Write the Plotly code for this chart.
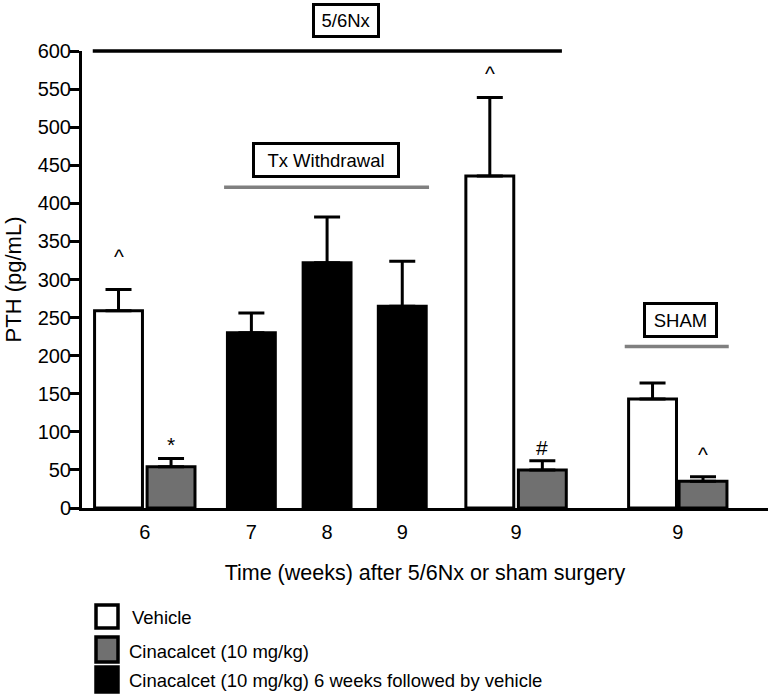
import plotly.graph_objects as go

# ---------------- data ----------------
week_labels = ["6", "7", "8", "9", "9", "9"]

vehicle_pth = [259, 436, 143]
vehicle_sem = [28, 103, 21]

cinacalcet_pth = [54, 50, 35]
cinacalcet_sem = [11, 12, 6]

withdrawal_pth = [230, 322, 265]
withdrawal_sem = [26, 60, 59]

vehicle_marks = ["^", "^", ""]
cinacalcet_marks = ["*", "#", "^"]

legend_names = ["Vehicle", "Cinacalcet (10 mg/kg)",
                "Cinacalcet (10 mg/kg) 6 weeks followed by vehicle"]

# ---------------- layout (slot positions in bar-width units) ----------------
vehicle_pos = [0.0, 7.21, 10.37]
cinacalcet_pos = [1.02, 8.23, 11.35]
withdrawal_pos = [2.58, 4.05, 5.51]
tick_pos = [(vehicle_pos[0] + cinacalcet_pos[0]) / 2, *withdrawal_pos,
            (vehicle_pos[1] + cinacalcet_pos[1]) / 2,
            (vehicle_pos[2] + cinacalcet_pos[2]) / 2]
vehicle_mark_shift = [19, 10, 0]
cinacalcet_mark_shift = [0, 0, 9]

FONT = "Liberation Sans Narrow, Arial Narrow, Liberation Sans, Arial, sans-serif"
GRAY_FILL = "#707070"
GRAY_LINE = "#808080"
BAR_W = 0.93

W, H = 770, 695
PLOT_L, PLOT_T, PLOT_W, PLOT_H = 82, 51, 686, 457   # plot area in window pixels
ML, MT = PLOT_L, PLOT_T
MR, MB = W - ML - PLOT_W, H - MT - PLOT_H


def pxx(px):
    return (px - PLOT_L) / PLOT_W


def pxy(py):
    return (PLOT_T + PLOT_H - py) / PLOT_H


def bar(name, x, y, err, fill):
    return go.Bar(
        name=name, x=x, y=y, width=BAR_W, showlegend=False,
        marker=dict(color=fill, line=dict(color="black", width=3)),
        error_y=dict(type="data", symmetric=False, array=err,
                     arrayminus=[0] * len(err), color="black",
                     thickness=3, width=13),
    )


fig = go.Figure()
fig.add_trace(bar(legend_names[0], vehicle_pos, vehicle_pth, vehicle_sem, "white"))
fig.add_trace(bar(legend_names[1], cinacalcet_pos, cinacalcet_pth, cinacalcet_sem, GRAY_FILL))
fig.add_trace(bar(legend_names[2], withdrawal_pos, withdrawal_pth, withdrawal_sem, "black"))

annotations = []
shapes = []

# significance marks
for pos, vals, sems, marks, shifts in [
    (vehicle_pos, vehicle_pth, vehicle_sem, vehicle_marks, vehicle_mark_shift),
    (cinacalcet_pos, cinacalcet_pth, cinacalcet_sem, cinacalcet_marks, cinacalcet_mark_shift),
]:
    for p, v, s, m, sh in zip(pos, vals, sems, marks, shifts):
        if m:
            annotations.append(dict(x=p, y=v + s, xref="x", yref="y", text=m,
                                    showarrow=False, yanchor="bottom", yshift=sh,
                                    font=dict(family=FONT, size=21, color="black")))

BOX_FONT = dict(family=FONT, size=18.5, color="black")
# group boxes
annotations.append(dict(x=4.417, y=pxy(20.5), xref="x", yref="paper", text="5/6Nx",
                        showarrow=False, xanchor="center", yanchor="middle",
                        width=62, height=29, borderpad=0,
                        bordercolor="black", borderwidth=3, bgcolor="white",
                        font=BOX_FONT))
annotations.append(dict(x=4.03, y=456.6, xref="x", yref="y", text="Tx Withdrawal",
                        showarrow=False, xanchor="center", yanchor="middle",
                        width=142, height=30, borderpad=0,
                        bordercolor="black", borderwidth=3, bgcolor="white",
                        font=BOX_FONT))
annotations.append(dict(x=10.91, y=247, xref="x", yref="y", text="SHAM",
                        showarrow=False, xanchor="center", yanchor="middle",
                        width=69, height=30, borderpad=0,
                        bordercolor="black", borderwidth=3, bgcolor="white",
                        font=BOX_FONT))

# group lines
shapes.append(dict(type="line", xref="x", yref="paper", x0=-0.5, x1=8.61, y0=1.0, y1=1.0,
                   line=dict(color="black", width=3.5)))
shapes.append(dict(type="line", xref="x", yref="y", x0=2.05, x1=6.03, y0=421, y1=421,
                   line=dict(color=GRAY_LINE, width=3.5)))
shapes.append(dict(type="line", xref="x", yref="y", x0=9.83, x1=11.85, y0=212, y1=212,
                   line=dict(color=GRAY_LINE, width=3.5)))

# manual legend
legend_fill = ["white", GRAY_FILL, "black"]
legend_rows = [(605, 628, 617, 130), (637, 662, 651, 127), (667, 692, 680, 127)]
for name, fill, (y0, y1, yc, tx) in zip(legend_names, legend_fill, legend_rows):
    shapes.append(dict(type="rect", xref="paper", yref="paper",
                       x0=pxx(96), x1=pxx(118), y0=pxy(y1), y1=pxy(y0),
                       fillcolor=fill, line=dict(color="black", width=3.5)))
    annotations.append(dict(x=pxx(tx), y=pxy(yc), xref="paper", yref="paper", text=name,
                            showarrow=False, xanchor="left", yanchor="middle",
                            font=dict(family=FONT, size=18.5, color="black")))

fig.update_layout(
    width=W, height=H,
    margin=dict(l=ML, r=MR, t=MT, b=MB, pad=0),
    paper_bgcolor="white", plot_bgcolor="white",
    barmode="overlay",
    showlegend=False,
    font=dict(family=FONT, size=20, color="black"),
    annotations=annotations,
    shapes=shapes,
    xaxis=dict(range=[-0.709, 12.612], tickmode="array", tickvals=tick_pos,
               ticktext=week_labels, ticks="", showgrid=False, zeroline=False,
               showline=True, linecolor="black", linewidth=3, automargin=False,
               ticklabelstandoff=4,
               tickfont=dict(family=FONT, size=20, color="black"),
               title=dict(text="Time (weeks) after 5/6Nx or sham surgery",
                          font=dict(family=FONT, size=21.5, color="black"), standoff=23)),
    yaxis=dict(range=[0, 600], tickmode="linear", tick0=0, dtick=50,
               ticks="outside", ticklen=9, tickwidth=3, tickcolor="black",
               showgrid=False, zeroline=False, showline=True, linecolor="black",
               linewidth=3, automargin=False, ticklabelstandoff=-5,
               tickfont=dict(family=FONT, size=20, color="black"),
               title=dict(text="PTH (pg/mL)",
                          font=dict(family=FONT, size=22, color="black"), standoff=10)),
)

# remove the browser's default 8px body margin so the figure sits at the window corner
fig.write_html("out.html", config={"displayModeBar": False},
               post_script="document.body.style.margin = '0';")
